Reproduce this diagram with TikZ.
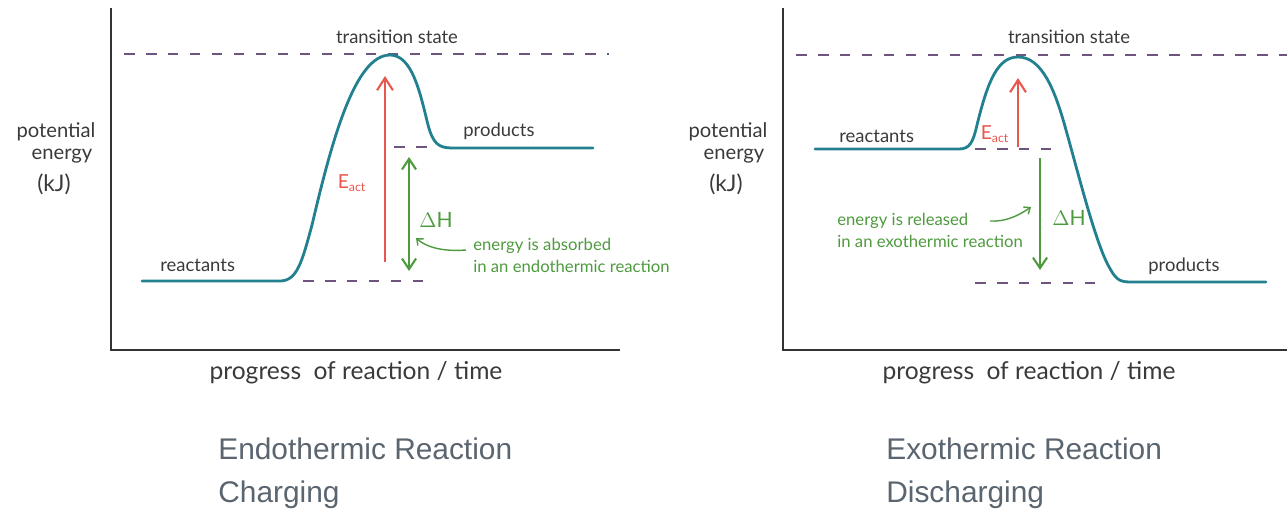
\documentclass[tikz,border=0pt]{standalone}
\usepackage{fontspec}
\setmainfont{Lato}
\newfontfamily\capfont{Liberation Sans}
\usetikzlibrary{arrows.meta}
\definecolor{curvec}{HTML}{22808F}
\definecolor{dashc}{HTML}{6E5580}
\definecolor{redc}{HTML}{E8564E}
\definecolor{greenc}{HTML}{4E9A3E}
\definecolor{axisc}{HTML}{333333}
\definecolor{inkc}{HTML}{3A3A3A}
\definecolor{capc}{HTML}{5A6570}
\tikzset{
  axisline/.style={draw=axisc, line width=1.4pt},
  energycurve/.style={draw=curvec, line width=1.6pt, line join=round, line cap=round},
  leveldash/.style={draw=dashc, line width=0.9pt, dash pattern=on 6pt off 6.5pt},
  eact/.style={draw=redc, line width=1.2pt, -{Straight Barb[length=7pt,width=9pt,line width=1.2pt]}},
  dh/.style={draw=greenc, line width=1.2pt},
  note/.style={draw=greenc, line width=0.8pt, -{Straight Barb[length=3pt,width=5pt]}},
  hand/.style={text=inkc, font=\fontsize{10.5}{12}\selectfont, inner sep=0pt},
  ylab/.style={text=inkc, font=\fontsize{11.5}{12}\selectfont, inner sep=0pt},
  xlab/.style={text=inkc, font=\fontsize{14}{15}\selectfont, inner sep=0pt},
  redlab/.style={text=redc, font=\fontsize{11}{12}\selectfont, inner sep=0pt},
  greenlab/.style={text=greenc, font=\fontsize{12}{13}\selectfont, inner sep=0pt},
  greennote/.style={text=greenc, font=\fontsize{9.5}{12.5}\selectfont, inner sep=0pt, align=left},
  caption/.style={text=capc, font=\capfont\fontsize{17}{20}\selectfont, inner sep=0pt, anchor=base west}
}
\begin{document}
\begin{tikzpicture}[x=0.02cm, y=-0.02cm]
\useasboundingbox (0,0) rectangle (1287,510);
% ===================== LEFT: endothermic =====================
\coordinate (Lo) at (111,350);
\coordinate (Ltop) at (111,8);
\coordinate (Lend) at (620,350);
\draw[axisline] (Ltop) -- (Lo) -- (Lend);
% levels
\coordinate (LtsA) at (124,54);  \coordinate (LtsB) at (609,54);
\coordinate (LrA) at (303,281);  \coordinate (LrB) at (427,281);
\coordinate (LpA) at (394,147);  \coordinate (LpB) at (432,147);
\draw[leveldash] (LtsA) -- (LtsB);
\draw[leveldash] (LrA) -- (LrB);
\draw[leveldash] (LpA) -- (LpB);
% curve
\draw[energycurve] (142,281) -- (280,281)
  .. controls (297,281) and (302,262) .. (312,225)
  .. controls (332,140) and (355,55) .. (390,55)
  .. controls (412,55) and (420,92) .. (428,125)
  .. controls (433,143) and (438,148) .. (452,148)
  -- (593,148);
% labels
\node[hand, anchor=base] (Lts) at (397,44) {transition state};
\node[hand, anchor=base west] (Lreact) at (160,271) {reactants};
\node[hand, anchor=base west] (Lprod) at (463,136) {products};
% Eact arrow
\coordinate (LeA) at (385,262);
\coordinate (LeB) at (385,76);
\draw[eact] (LeA) -- (LeB);
\node[redlab] (Leact) at (352,183) {E\textsubscript{\fontsize{7}{8}\selectfont act}};
% dH arrow
\coordinate (LdA) at (409,157);
\coordinate (LdB) at (409,271);
\draw[dh, {Straight Barb[length=6pt,width=8pt,line width=1.2pt]}-{Straight Barb[length=6pt,width=8pt,line width=1.2pt]}] (LdA) -- (LdB);
\node[greenlab, anchor=west] (Ldh) at (419,220) {$\Delta$H};
\node[greennote, anchor=north west] (Lnote) at (473,238) {energy is absorbed\\in an endothermic reaction};
\coordinate (LnS) at (466,250);
\coordinate (LnE) at (416,238);
\draw[note] (LnS) .. controls (440,252) and (425,246) .. (LnE);
% axis labels
\node[ylab, anchor=base] (Lyl1) at (56,137) {potential};
\node[ylab, anchor=base] (Lyl2) at (62,159) {energy};
\node[ylab, anchor=base, font=\fontsize{13}{14}\selectfont] (Lyl3) at (54,191) {(kJ)};
\node[xlab] (Lxl) at (356,373) {progress\enspace of reaction / time};
% captions
\node[caption] (Lc1) at (218,459) {Endothermic Reaction};
\node[caption] (Lc2) at (218,502) {Charging};
% ===================== RIGHT: exothermic =====================
\coordinate (Ro) at (783,350);
\coordinate (Rtop) at (783,8);
\coordinate (Rend) at (1287,350);
\draw[axisline] (Rtop) -- (Ro) -- (Rend);
\coordinate (RtsA) at (796,55);  \coordinate (RtsB) at (1287,55);
\coordinate (RrA) at (975,149);  \coordinate (RrB) at (1061,149);
\coordinate (RpA) at (975,283);  \coordinate (RpB) at (1099,283);
\draw[leveldash] (RtsA) -- (RtsB);
\draw[leveldash] (RrA) -- (RrB);
\draw[leveldash] (RpA) -- (RpB);
\draw[energycurve] (815,149) -- (959,149)
  .. controls (970,149) and (973,142) .. (977,125)
  .. controls (988,80) and (998,57) .. (1018,57)
  .. controls (1042,57) and (1055,90) .. (1066,130)
  .. controls (1080,180) and (1095,240) .. (1108,265)
  .. controls (1115,278) and (1118,282) .. (1130,282)
  -- (1266,282);
\node[hand, anchor=base] (Rts) at (1069,44) {transition state};
\node[hand, anchor=base west] (Rreact) at (839,142) {reactants};
\node[hand, anchor=base west] (Rprod) at (1148,271) {products};
\coordinate (ReA) at (1018,147);
\coordinate (ReB) at (1018,78);
\draw[eact] (ReA) -- (ReB);
\node[redlab] (React) at (995,134) {E\textsubscript{\fontsize{7}{8}\selectfont act}};
\coordinate (RdA) at (1040,158);
\coordinate (RdB) at (1040,270);
\draw[dh, -{Straight Barb[length=6pt,width=8pt,line width=1.2pt]}] (RdA) -- (RdB);
\node[greenlab, anchor=west] (Rdh) at (1052,218) {$\Delta$H};
\node[greennote, anchor=north west] (Rnote) at (837,213) {energy is released\\in an exothermic reaction};
\coordinate (RnS) at (990,221);
\coordinate (RnE) at (1031,207);
\draw[note] (RnS) .. controls (1005,222) and (1018,216) .. (RnE);
\node[ylab, anchor=base] (Ryl1) at (728,137) {potential};
\node[ylab, anchor=base] (Ryl2) at (734,159) {energy};
\node[ylab, anchor=base, font=\fontsize{13}{14}\selectfont] (Ryl3) at (726,191) {(kJ)};
\node[xlab] (Rxl) at (1029,373) {progress\enspace of reaction / time};
\node[caption] (Rc1) at (886,459) {Exothermic Reaction};
\node[caption] (Rc2) at (886,502) {Discharging};
\end{tikzpicture}
\end{document}
